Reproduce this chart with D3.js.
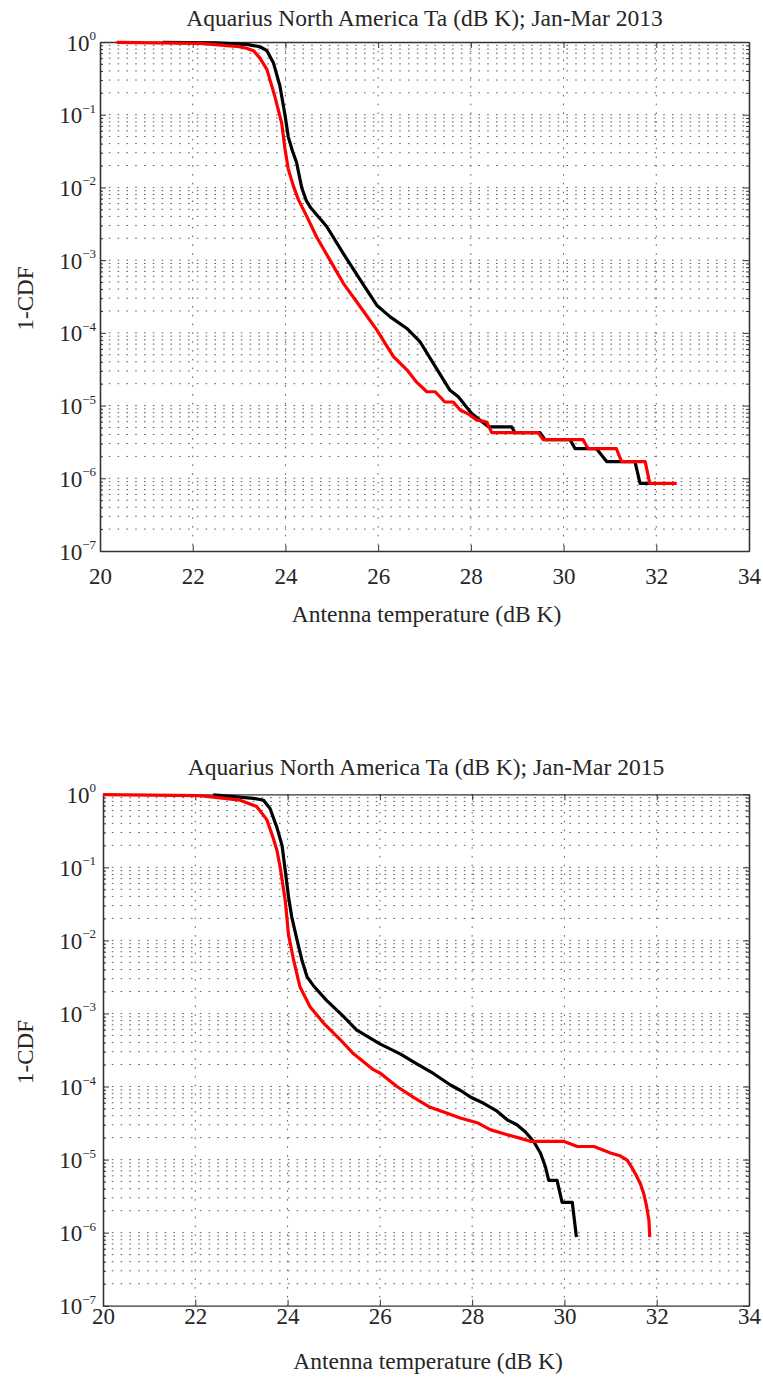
<!DOCTYPE html>
<html lang="en">
<head>
<meta charset="UTF-8">
<title>Aquarius North America Ta 1-CDF</title>
<script src="https://d3js.org/d3.v7.min.js"></script>
<style>
    body { margin: 0; background: #fff; }
    svg { display: block; }
    text { font-family: "Liberation Serif", "Times New Roman", serif; fill: #262626; }
</style>
</head>
<body>
<div id="chart"></div>
<script>
    // tick values
    const xTickValues = [20, 22, 24, 26, 28, 30, 32, 34];
    const yExponents = [0, -1, -2, -3, -4, -5, -6, -7];

    const title2013 = "Aquarius North America Ta (dB K); Jan-Mar 2013";
    const title2015 = "Aquarius North America Ta (dB K); Jan-Mar 2015";
    const xLabel = "Antenna temperature (dB K)";
    const yLabel = "1-CDF";

    // 2013, black curve
    const ta2013Black = [21.35, 22.5, 23.2, 23.45, 23.6, 23.74, 23.88, 23.99, 24.06, 24.15, 24.24, 24.35,
        24.45, 24.55, 24.89, 25.25, 25.61, 25.97, 26.26, 26.62, 26.9, 27.19, 27.55, 27.73, 27.87, 28.02,
        28.2, 28.38, 28.88, 28.95, 29.49, 29.6, 30.14, 30.25, 30.71, 30.93, 31.54, 31.65, 31.86];
    const cdf2013Black = [0.99, 0.97, 0.92, 0.86, 0.76, 0.52, 0.25, 0.1, 0.05, 0.032, 0.022, 0.01,
        0.0066, 0.0052, 0.0029, 0.00123, 0.00054, 0.00024, 0.000166, 0.000115, 0.000076, 0.000038, 0.0000162, 0.0000132, 0.0000102, 0.0000078,
        0.0000063, 5.1e-6, 5.1e-6, 4.25e-6, 4.25e-6, 3.4e-6, 3.4e-6, 2.55e-6, 2.55e-6, 1.7e-6, 1.7e-6, 8.5e-7, 8.5e-7];

    // 2013, red curve
    const ta2013Red = [20.36, 22.16, 23.0, 23.16, 23.31, 23.45, 23.6, 23.77, 23.92, 23.99, 24.06, 24.17,
        24.28, 24.46, 24.67, 24.96, 25.25, 25.61, 25.97, 26.33, 26.62, 26.83, 27.05, 27.23, 27.44, 27.62,
        27.77, 27.94, 28.13, 28.34, 28.45, 29.45, 29.56, 30.42, 30.53, 31.14, 31.25, 31.76, 31.86, 32.44];
    const cdf2013Red = [0.99, 0.96, 0.86, 0.82, 0.76, 0.6, 0.42, 0.18, 0.076, 0.034, 0.018, 0.0105,
        0.0068, 0.004, 0.0021, 0.001, 0.00048, 0.00023, 0.00011, 0.000047, 0.000031, 0.000021, 0.0000155, 0.0000155, 0.0000112, 0.0000112,
        8.7e-6, 7.7e-6, 6.3e-6, 5.95e-6, 4.25e-6, 4.25e-6, 3.4e-6, 3.4e-6, 2.55e-6, 2.55e-6, 1.7e-6, 1.7e-6, 8.5e-7, 8.5e-7];

    // 2015, black curve
    const ta2015Black = [22.39, 23.26, 23.48, 23.62, 23.77, 23.88, 23.95, 24.02, 24.09, 24.2, 24.31, 24.42,
        24.56, 24.85, 25.21, 25.5, 26.01, 26.44, 26.8, 27.16, 27.53, 27.74, 27.96, 28.25, 28.54, 28.76,
        28.97, 29.15, 29.33, 29.48, 29.59, 29.66, 29.84, 29.95, 30.17, 30.26];
    const cdf2015Black = [0.98, 0.88, 0.83, 0.64, 0.35, 0.2, 0.09, 0.04, 0.021, 0.0105, 0.0054, 0.0032,
        0.0024, 0.0015, 0.00091, 0.00059, 0.00038, 0.00028, 0.000205, 0.000151, 0.000105, 0.000089, 0.000072, 0.000059, 0.000046, 0.000035,
        0.00003, 0.000024, 0.0000178, 0.0000123, 7.9e-6, 5.2e-6, 5.2e-6, 2.6e-6, 2.6e-6, 8.7e-7];

    // 2015, red curve
    const ta2015Red = [20.0, 22.1, 22.97, 23.33, 23.55, 23.69, 23.77, 23.84, 23.95, 24.02, 24.13, 24.27,
        24.49, 24.78, 25.14, 25.43, 25.86, 26.01, 26.37, 26.73, 27.09, 27.46, 27.74, 28.11, 28.39, 28.76,
        29.05, 29.26, 29.98, 30.28, 30.64, 31.0, 31.2, 31.36, 31.45, 31.55, 31.65, 31.72, 31.78, 31.83, 31.85];
    const cdf2015Red = [0.99, 0.96, 0.83, 0.68, 0.45, 0.25, 0.17, 0.1, 0.035, 0.012, 0.0054, 0.0023,
        0.00123, 0.00074, 0.00044, 0.00028, 0.00017, 0.000152, 0.0001, 0.000071, 0.000052, 0.000043, 0.000037, 0.000032, 0.0000257, 0.0000219,
        0.0000195, 0.0000178, 0.0000178, 0.0000151, 0.0000151, 0.0000123, 0.0000113, 9.8e-6, 8.0e-6, 6.2e-6, 4.6e-6, 3.4e-6, 2.3e-6, 1.5e-6, 8.7e-7];

    const panels = [
        { title: title2013, black: [ta2013Black, cdf2013Black], red: [ta2013Red, cdf2013Red],
          left: 100, top: 42, right: 749, bottom: 551, titleY: 25.5, tickPad: 17, xLabelY: 621.5 },
        { title: title2015, black: [ta2015Black, cdf2015Black], red: [ta2015Red, cdf2015Red],
          left: 103, top: 794.3, right: 749, bottom: 1305.7, titleY: 774.5, tickPad: 2, xLabelY: 1369 }
    ];

    const svg = d3.select("#chart")
        .append("svg")
        .attr("width", 763)
        .attr("height", 1379);

    svg.append("rect").attr("width", 763).attr("height", 1379).attr("fill", "#fff");

    // minor/major positions of the log grid
    const logGrid = [];
    yExponents.forEach(e => {
        if (e === 0) return;
        for (let k = 1; k <= 9; k++) logGrid.push(k * Math.pow(10, e));
    });
    const logMinor = logGrid.filter(v => !yExponents.some(e => Math.abs(v - Math.pow(10, e)) < v * 1e-6));

    panels.forEach(p => drawPanel(p));

    function drawPanel(p) {
        const x = d3.scaleLinear().domain([20, 34]).range([p.left, p.right]);
        const y = d3.scaleLog().domain([1e-7, 1]).range([p.bottom, p.top]);
        const g = svg.append("g");

        // grid
        const grid = g.append("g")
            .attr("stroke", "#5e5e5e")
            .attr("stroke-width", 1)
            .attr("stroke-dasharray", "1.6,7.2")
            .attr("fill", "none");

        grid.selectAll("line.h")
            .data(logGrid.filter(v => v > 1e-7 && v < 1))
            .join("line")
            .attr("class", "h")
            .attr("x1", p.left).attr("x2", p.right)
            .attr("y1", d => y(d)).attr("y2", d => y(d));

        grid.selectAll("line.v")
            .data(xTickValues.filter(v => v > 20 && v < 34))
            .join("line")
            .attr("class", "v")
            .attr("x1", d => x(d)).attr("x2", d => x(d))
            .attr("y1", p.top).attr("y2", p.bottom);

        // axes (ticks inward)
        const axisStyle = sel => {
            sel.select(".domain").attr("stroke", "#333").attr("stroke-width", 1.3);
            sel.selectAll(".tick line").attr("stroke", "#333").attr("stroke-width", 1);
        };

        g.append("g")
            .attr("transform", `translate(0,${p.bottom})`)
            .call(d3.axisBottom(x).tickValues(xTickValues).tickSizeInner(-6).tickSizeOuter(0)
                .tickPadding(p.tickPad).tickFormat(d3.format("d")))
            .call(axisStyle)
            .call(a => a.selectAll("text")
                .style("font-family", "'Liberation Serif', 'Times New Roman', serif")
                .style("font-size", "23px")
                .attr("fill", "#262626"));

        g.append("g")
            .attr("transform", `translate(0,${p.top})`)
            .call(d3.axisTop(x).tickValues(xTickValues).tickSizeInner(-6).tickSizeOuter(0).tickFormat(""))
            .call(axisStyle);

        const decades = yExponents.map(e => Math.pow(10, e));

        g.append("g")
            .attr("transform", `translate(${p.left},0)`)
            .call(d3.axisLeft(y).tickValues(decades).tickSizeInner(-6).tickSizeOuter(0).tickFormat(""))
            .call(axisStyle);
        g.append("g")
            .attr("transform", `translate(${p.left},0)`)
            .call(d3.axisLeft(y).tickValues(logMinor).tickSizeInner(-3).tickSizeOuter(0).tickFormat(""))
            .call(axisStyle);
        g.append("g")
            .attr("transform", `translate(${p.right},0)`)
            .call(d3.axisRight(y).tickValues(decades).tickSizeInner(-6).tickSizeOuter(0).tickFormat(""))
            .call(axisStyle);
        g.append("g")
            .attr("transform", `translate(${p.right},0)`)
            .call(d3.axisRight(y).tickValues(logMinor).tickSizeInner(-3).tickSizeOuter(0).tickFormat(""))
            .call(axisStyle);

        // y tick labels as 10^n
        const yl = g.append("g").selectAll("text")
            .data(yExponents)
            .join("text")
            .attr("x", 96)
            .attr("y", d => y(Math.pow(10, d)) + 8.5)
            .attr("text-anchor", "end")
            .style("font-size", "23px");
        yl.append("tspan").text("10");
        yl.append("tspan")
            .attr("dy", -10.5)
            .style("font-size", "13px")
            .text(d => d < 0 ? "\u2212" + Math.abs(d) : String(d));

        // curves
        const line = d3.line()
            .x(d => x(d[0]))
            .y(d => y(d[1]));

        const series = [
            { data: d3.zip(p.black[0], p.black[1]), color: "#000" },
            { data: d3.zip(p.red[0], p.red[1]), color: "#ff0000" }
        ];
        g.append("g").selectAll("path")
            .data(series)
            .join("path")
            .attr("d", d => line(d.data))
            .attr("fill", "none")
            .attr("stroke", d => d.color)
            .attr("stroke-width", 3.2)
            .attr("stroke-linejoin", "round");

        // title and labels
        g.append("text")
            .attr("x", (p.left + p.right) / 2)
            .attr("y", p.titleY)
            .attr("text-anchor", "middle")
            .style("font-size", "23.5px")
            .text(p.title);

        g.append("text")
            .attr("x", (p.left + p.right) / 2 + 2)
            .attr("y", p.xLabelY)
            .attr("text-anchor", "middle")
            .style("font-size", "23.5px")
            .text(xLabel);

        g.append("text")
            .attr("transform", `translate(33,${(p.top + p.bottom) / 2 + 2}) rotate(-90)`)
            .attr("text-anchor", "middle")
            .style("font-size", "23px")
            .text(yLabel);
    }
</script>
</body>
</html>
